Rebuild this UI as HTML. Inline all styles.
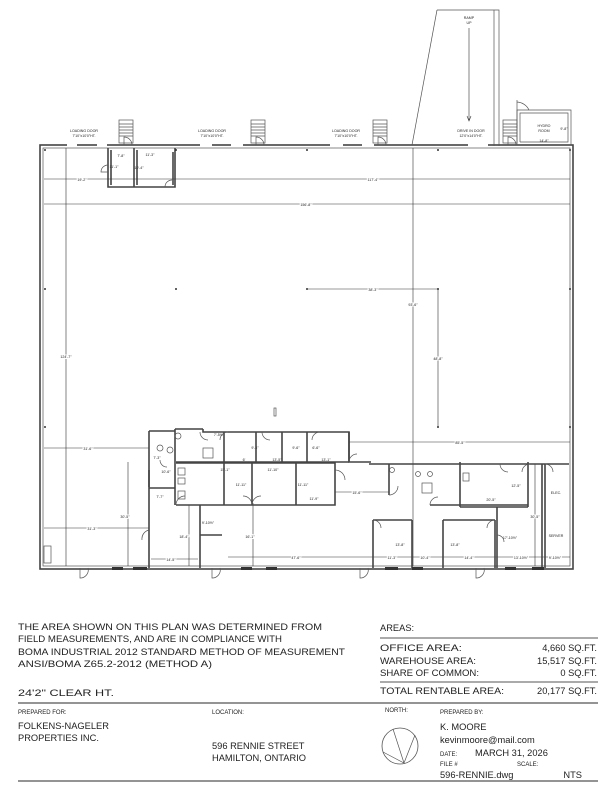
<!DOCTYPE html>
<html><head><meta charset="utf-8"><style>
html,body{margin:0;padding:0;background:#fff;}
svg{display:block;}
text{font-family:"Liberation Sans",sans-serif;fill:#222;}
.s{font-size:3.6px;}
.w{stroke:#444;stroke-width:1.6;fill:none;}
.t{stroke:#555;stroke-width:0.7;fill:none;}
.d{stroke:#333;stroke-width:0.6;fill:none;}
</style></head><body>
<svg width="612" height="792" viewBox="0 0 612 792" xmlns="http://www.w3.org/2000/svg">
<!-- outer building -->
<rect x="40" y="145" width="533" height="424" class="w"/>
<rect x="43" y="148" width="527" height="418" class="t"/>
<!-- top loading gaps / stairs -->
<g fill="#fff" stroke="#555" stroke-width="0.7">
<rect x="119" y="120" width="14" height="23"/><rect x="251" y="120" width="14" height="23"/>
<rect x="373" y="120" width="14" height="23"/><rect x="503" y="120" width="14" height="23"/>
</g>
<g class="t">
<path d="M119,124h14M119,127h14M119,130h14M119,133h14M119,136h14"/>
<path d="M251,124h14M251,127h14M251,130h14M251,133h14M251,136h14"/>
<path d="M373,124h14M373,127h14M373,130h14M373,133h14M373,136h14"/>
<path d="M503,124h14M503,127h14M503,130h14M503,133h14M503,136h14"/>
<path d="M124,145v-8a8,8 0 0 1 8,8"/><path d="M256,145v-8a8,8 0 0 1 8,8"/>
<path d="M378,145v-8a8,8 0 0 1 8,8"/><path d="M508,145v-8a8,8 0 0 1 8,8"/>
</g>
<g stroke="#fff" stroke-width="2.2"><path d="M67,145h10M97,145h10M200,145h12M231,145h12M330,145h13M362,145h12M468,145h20"/></g>
<!-- ramp -->
<path d="M437,10 L412,145 M437,10 H499 V146 M494,10 V146" class="t" stroke-width="1"/>
<text class="s" x="469" y="19" text-anchor="middle">RAMP</text>
<text class="s" x="469" y="24" text-anchor="middle">UP</text>
<path d="M469,28 V120 M467,116 L469,121 L471,116" class="d"/>
<text class="s" x="471" y="132" text-anchor="middle">DRIVE IN DOOR</text>
<text class="s" x="471" y="137" text-anchor="middle">12'0"x14'0"HT.</text>
<!-- hydro -->
<path d="M517,145 V110 H571 V145 M520,142 V113 H568 V142 H520" class="t" stroke-width="0.9"/>
<path d="M517,128 V100 a8,8 0 0 1 0,0 M517,102 a14,14 0 0 1 12,8" class="t"/>
<text class="s" x="544" y="127" text-anchor="middle">HYDRO</text>
<text class="s" x="544" y="132" text-anchor="middle">ROOM</text>
<text class="s" x="564" y="130" text-anchor="middle">9'-8"</text>
<text class="s" x="544" y="142" text-anchor="middle">14'-8"</text>
<!-- loading labels -->
<g text-anchor="middle" class="s">
<text x="84" y="132">LOADING DOOR</text><text x="84" y="137">7'10"x10'0"HT.</text>
<text x="212" y="132">LOADING DOOR</text><text x="212" y="137">7'10"x10'0"HT.</text>
<text x="346" y="132">LOADING DOOR</text><text x="346" y="137">7'10"x10'0"HT.</text>
</g>
<!-- top small rooms -->
<path d="M108,148 V187 H175 V148 M134,148 V187 M111,150 V185 M137,150 V185 M173,152 V185" class="w" stroke-width="1.2"/>
<path d="M108,165 a7,7 0 0 0 -7,7 h7 M165,187 a7,7 0 0 1 7,-7" class="t"/>
<text class="s" x="121" y="157" text-anchor="middle">7'-8"</text>
<text class="s" x="150" y="156" text-anchor="middle">11'-3"</text>
<text class="s" x="114" y="168" text-anchor="middle">11'-1"</text>
<text class="s" x="139" y="169" text-anchor="middle">10'-4"</text>
<!-- dimension lines -->
<g class="d">
<path d="M44,179 H570 M44,204 H570 M66,148 V566 M413,148 V566 M307,289 H438 M438,289 V427"/>
<path d="M44,448 H149 M349,442 H570 M44,528 H149 M128,462 V566 M189,505 V566 M253,503 V566"/>
<path d="M228,557 H373 M151,559 H198 M373,557 H570 M335,492 H389 M497,510 V566 M535,464 V566"/>
</g>
<g fill="#333"><circle cx="45" cy="150" r="1"/><circle cx="176" cy="150" r="1"/><circle cx="307" cy="150" r="1"/><circle cx="438" cy="150" r="1"/><circle cx="570" cy="150" r="1"/>
<circle cx="45" cy="289" r="1"/><circle cx="176" cy="289" r="1"/><circle cx="307" cy="289" r="1"/><circle cx="438" cy="289" r="1"/><circle cx="570" cy="289" r="1"/>
<circle cx="45" cy="427" r="1"/><circle cx="438" cy="427" r="1"/><circle cx="570" cy="427" r="1"/></g>
<g class="s" text-anchor="middle" style="paint-order:stroke" stroke="#fff" stroke-width="2">
<text x="82" y="181">19'-2"</text><text x="373" y="181">117'-4"</text><text x="306" y="206">156'-8"</text>
<text x="66" y="358">124'-7"</text><text x="373" y="291">38'-3"</text><text x="413" y="306">93'-6"</text>
<text x="438" y="360">48'-8"</text><text x="88" y="450">31'-6"</text><text x="460" y="444">85'-5"</text>
<text x="92" y="530">31'-3"</text><text x="125" y="518">30'-5"</text><text x="184" y="538">18'-4"</text>
<text x="250" y="538">16'-1"</text><text x="208" y="524">9'-10½"</text><text x="296" y="559">47'-6"</text>
<text x="171" y="561">14'-5"</text><text x="392" y="559">11'-3"</text><text x="425" y="559">10'-4"</text>
<text x="469" y="559">14'-4"</text><text x="521" y="559">13'-10½"</text><text x="555" y="559">9'-10½"</text>
<text x="400" y="546">13'-8"</text><text x="455" y="546">13'-8"</text><text x="510" y="539">17'-10½"</text>
<text x="535" y="518">30'-5"</text><text x="516" y="487">12'-5"</text><text x="491" y="501">20'-5"</text>
<text x="357" y="494">15'-6"</text><text x="241" y="486">11'-11"</text><text x="303" y="486">11'-11"</text>
<text x="314" y="500">11'-9"</text><text x="225" y="471">15'-1"</text><text x="273" y="471">11'-10"</text>
<text x="277" y="461">13'-5"</text><text x="244" y="461">6'</text><text x="326" y="461">13'-1"</text>
<text x="219" y="436">7'-5½"</text><text x="255" y="449">9'-4"</text><text x="296" y="449">9'-6"</text>
<text x="316" y="449">6'-6"</text><text x="157" y="459">7'-3"</text><text x="166" y="473">10'-6"</text>
<text x="160" y="498">7'-7"</text>
</g>
<text x="556" y="494" class="s" text-anchor="middle" font-size="4.2">ELEC.</text>
<text x="556" y="537" class="s" text-anchor="middle" font-size="4.2">SERVER</text>
<!-- office walls -->
<g class="w" stroke-width="1.4">
<path d="M149,431 H175 M175,429 V505 M149,431 V568"/>
<path d="M175,429 H203 M203,429 V432 H349 V462 H371"/>
<path d="M176,463 H335 V505 H176 M176,462 H349 M200,505 V568 M224,463 V505 M252,463 V505 M296,463 V505 M349,432 V462"/>
<path d="M369,464 H569 M389,464 V495 M430,505 H528 M460,462 V507 M528,462 V507 M460,507 H528"/>
<path d="M373,520 V568 M412,520 V568 M443,520 V568 M495,520 V568 M373,520 H412 M443,520 H495"/>
<path d="M497,507 V568 M542,464 V568 M545,464 V568"/>
<path d="M149,488 H175 M149,470 V487 M224,432 V462 M256,432 V462 M282,432 V462 M307,432 V462"/>
<path d="M200,535 H222"/>
</g>
<g class="t">
<path d="M160,460 a7,7 0 0 0 7,7 M200,432 a8,8 0 0 0 8,8 M228,432 a8,8 0 0 0 -8,8 M262,432 a8,8 0 0 0 8,8 M320,432 a8,8 0 0 0 -8,8"/>
<path d="M335,470 a10,10 0 0 1 10,10 M349,462 a8,8 0 0 1 8,-8 M252,505 a9,9 0 0 0 -9,-9 M252,505 a9,9 0 0 1 9,-9 M176,505 a9,9 0 0 1 9,-9"/>
<path d="M389,495 a9,9 0 0 0 9,-9 M430,505 a8,8 0 0 1 8,-8 M500,464 a8,8 0 0 0 8,8 M545,464 a8,8 0 0 1 8,8 M530,464 a8,8 0 0 0 -8,8"/>
<path d="M373,520 a8,8 0 0 1 8,8 M495,520 a8,8 0 0 0 -8,8 M497,535 a7,7 0 0 1 7,7 M149,530 a9,9 0 0 0 -7,10"/>
<path d="M80,568 v10 a8,8 0 0 0 8,-10 M212,568 v10 a8,8 0 0 0 8,-10 M360,568 v10 a8,8 0 0 0 8,-10 M476,568 v10 a8,8 0 0 0 8,-10"/>
<rect x="44" y="546" width="7" height="17"/><rect x="274" y="408" width="2" height="8"/>
<rect x="178" y="468" width="7" height="7"/><rect x="178" y="478" width="7" height="6"/><rect x="178" y="491" width="7" height="8"/>
<rect x="203" y="448" width="10" height="10"/><rect x="422" y="483" width="10" height="10"/><rect x="463" y="473" width="6" height="8"/>
<circle cx="160" cy="448" r="3"/><circle cx="170" cy="450" r="3"/><circle cx="178" cy="436" r="3"/><circle cx="392" cy="470" r="2.5"/>
<circle cx="418" cy="474" r="2.5"/><circle cx="430" cy="474" r="2.5"/>
</g>
<g fill="#333"><rect x="112" y="567" width="11" height="3"/><rect x="133" y="567" width="14" height="3"/><rect x="241" y="567" width="11" height="3"/><rect x="266" y="567" width="11" height="3"/>
<rect x="385" y="567" width="13" height="3"/><rect x="412" y="567" width="11" height="3"/><rect x="505" y="567" width="11" height="3"/><rect x="532" y="567" width="12" height="3"/></g>
<!-- bottom info -->
<g font-size="9.3">
<text x="18" y="630" textLength="304" lengthAdjust="spacingAndGlyphs">THE AREA SHOWN ON THIS PLAN WAS DETERMINED FROM</text>
<text x="18" y="642" textLength="264" lengthAdjust="spacingAndGlyphs">FIELD MEASUREMENTS, AND ARE IN COMPLIANCE WITH</text>
<text x="18" y="655" textLength="327" lengthAdjust="spacingAndGlyphs">BOMA INDUSTRIAL 2012 STANDARD METHOD OF MEASUREMENT</text>
<text x="18" y="667" textLength="194" lengthAdjust="spacingAndGlyphs">ANSI/BOMA Z65.2-2012 (METHOD A)</text>
<text x="18" y="696" textLength="96" lengthAdjust="spacingAndGlyphs">24'2" CLEAR HT.</text>
<text x="380" y="631">AREAS:</text>
<text x="380" y="651" textLength="82" lengthAdjust="spacingAndGlyphs">OFFICE AREA:</text>
<text x="380" y="664" textLength="96" lengthAdjust="spacingAndGlyphs">WAREHOUSE AREA:</text>
<text x="380" y="676" textLength="99" lengthAdjust="spacingAndGlyphs">SHARE OF COMMON:</text>
<text x="380" y="694" textLength="124" lengthAdjust="spacingAndGlyphs">TOTAL RENTABLE AREA:</text>
<text x="597" y="651" text-anchor="end">4,660 SQ.FT.</text>
<text x="597" y="664" text-anchor="end">15,517 SQ.FT.</text>
<text x="597" y="676" text-anchor="end">0 SQ.FT.</text>
<text x="597" y="694" text-anchor="end">20,177 SQ.FT.</text>
<text x="18" y="729">FOLKENS-NAGELER</text>
<text x="18" y="741">PROPERTIES INC.</text>
<text x="212" y="749">596 RENNIE STREET</text>
<text x="212" y="761">HAMILTON, ONTARIO</text>
<text x="440" y="730">K. MOORE</text>
<text x="440" y="743">kevinmoore@mail.com</text>
<text x="475" y="756">MARCH 31, 2026</text>
<text x="440" y="778">596-RENNIE.dwg</text>
<text x="582" y="778" text-anchor="end">NTS</text>
</g>
<g font-size="6">
<text x="18" y="714">PREPARED FOR:</text><text x="212" y="714">LOCATION:</text><text x="385" y="712">NORTH:</text>
<text x="440" y="714">PREPARED BY:</text><text x="440" y="756">DATE:</text><text x="440" y="766">FILE #</text><text x="517" y="766">SCALE:</text>
</g>
<g stroke="#555" fill="none">
<path d="M380,638 H598 M380,682 H598" stroke-width="1"/>
<path d="M18,703 H598 M18,781 H598" stroke-width="1.2"/>
<circle cx="400" cy="746" r="18" stroke-width="0.8"/>
<path d="M393,729 L404,763 L383,752 M404,763 L415,735" stroke-width="0.7"/>
</g>
</svg>
</body></html>
